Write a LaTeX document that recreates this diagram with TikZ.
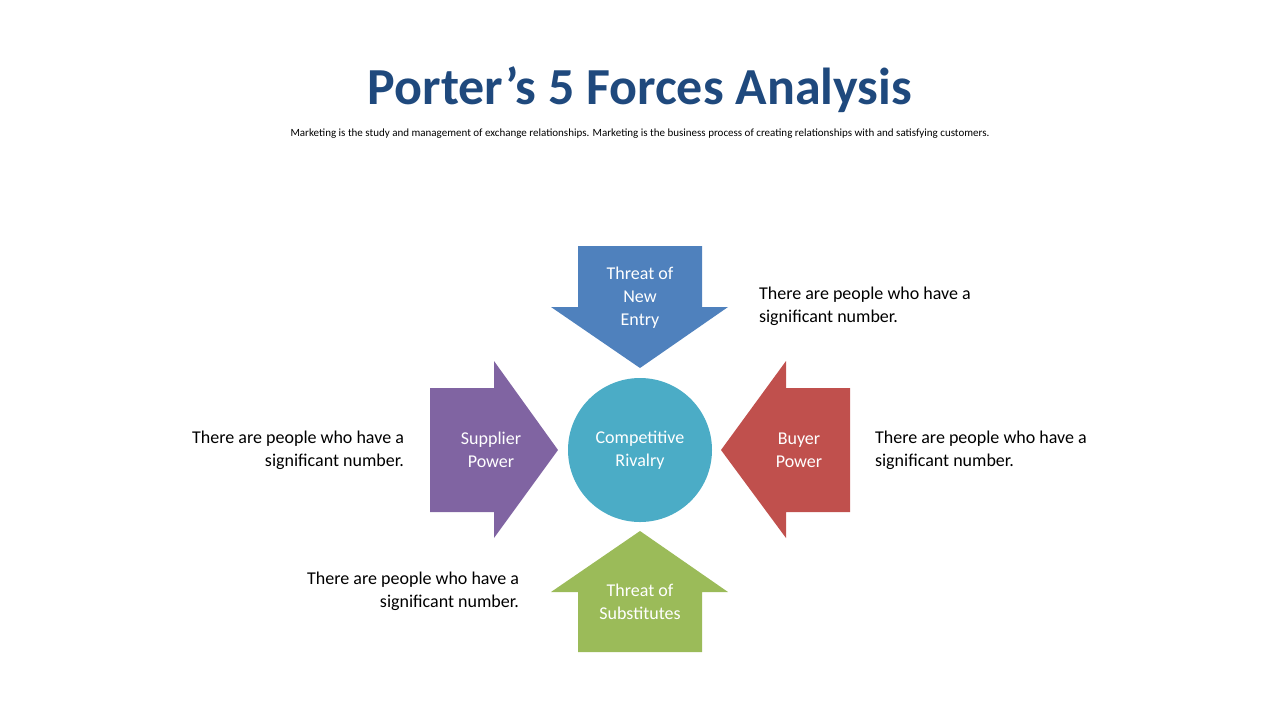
\documentclass[tikz,border=0pt]{standalone}
\usepackage{fontspec}
\setmainfont{Carlito}
\definecolor{entryblue}{HTML}{4F81BD}
\definecolor{supplierpurple}{HTML}{8064A2}
\definecolor{buyerred}{HTML}{C0504D}
\definecolor{substgreen}{HTML}{9BBB59}
\definecolor{rivalcyan}{HTML}{4BACC6}
\definecolor{titleblue}{HTML}{1F497D}
\tikzset{
  force/.style={align=center,text=white,font=\fontsize{9}{11.5}\selectfont},
  note/.style={font=\fontsize{9}{11.5}\selectfont}
}
\begin{document}
\begin{tikzpicture}[x=0.5pt,y=-0.5pt]
    \useasboundingbox (0,0) rectangle (1280,720);
    \node (title) at (640,90) {\fontsize{26}{30}\selectfont\bfseries\color{titleblue}Porter’s 5 Forces Analysis};
    \node (sub) at (640,134) {\fontsize{5.5}{6.5}\selectfont Marketing is the study and management of exchange relationships. Marketing is the business process of creating relationships with and satisfying customers.};
    % arrows
    \fill [entryblue] (578,246) -- (702,246) -- (702,307) -- (728,307) -- (640,368) -- (551,307) -- (578,307) -- cycle;
    \fill [supplierpurple] (430,388) -- (494,388) -- (494,361) -- (558,450) -- (494,538) -- (494,512) -- (430,512) -- cycle;
    \fill [buyerred] (850,388) -- (786,388) -- (786,361) -- (721,450) -- (786,538) -- (786,512) -- (850,512) -- cycle;
    \fill [substgreen] (578,652) -- (702,652) -- (702,592) -- (728,592) -- (640,531) -- (551,592) -- (578,592) -- cycle;
    \fill [rivalcyan] (640,450) circle [radius=72];
    % labels
    \node [force] (entry) at (640,298) {Threat of\\New\\Entry};
    \node [force] (supplier) at (491,450) {Supplier\\Power};
    \node [force] (buyer) at (799,450) {Buyer\\Power};
    \node [force] (subst) at (640,602) {Threat of\\Substitutes};
    \node [force] (rival) at (640,450) {Competitive\\Rivalry};
    % notes
    \node [note,align=left,anchor=west] (noteentry) at (752,306) {There are people who have a\\significant number.};
    \node [note,align=right,anchor=east] (notesupplier) at (411,450) {There are people who have a\\significant number.};
    \node [note,align=left,anchor=west] (notebuyer) at (868,450) {There are people who have a\\significant number.};
    \node [note,align=right,anchor=east] (notesubst) at (526,591) {There are people who have a\\significant number.};
\end{tikzpicture}
\end{document}
